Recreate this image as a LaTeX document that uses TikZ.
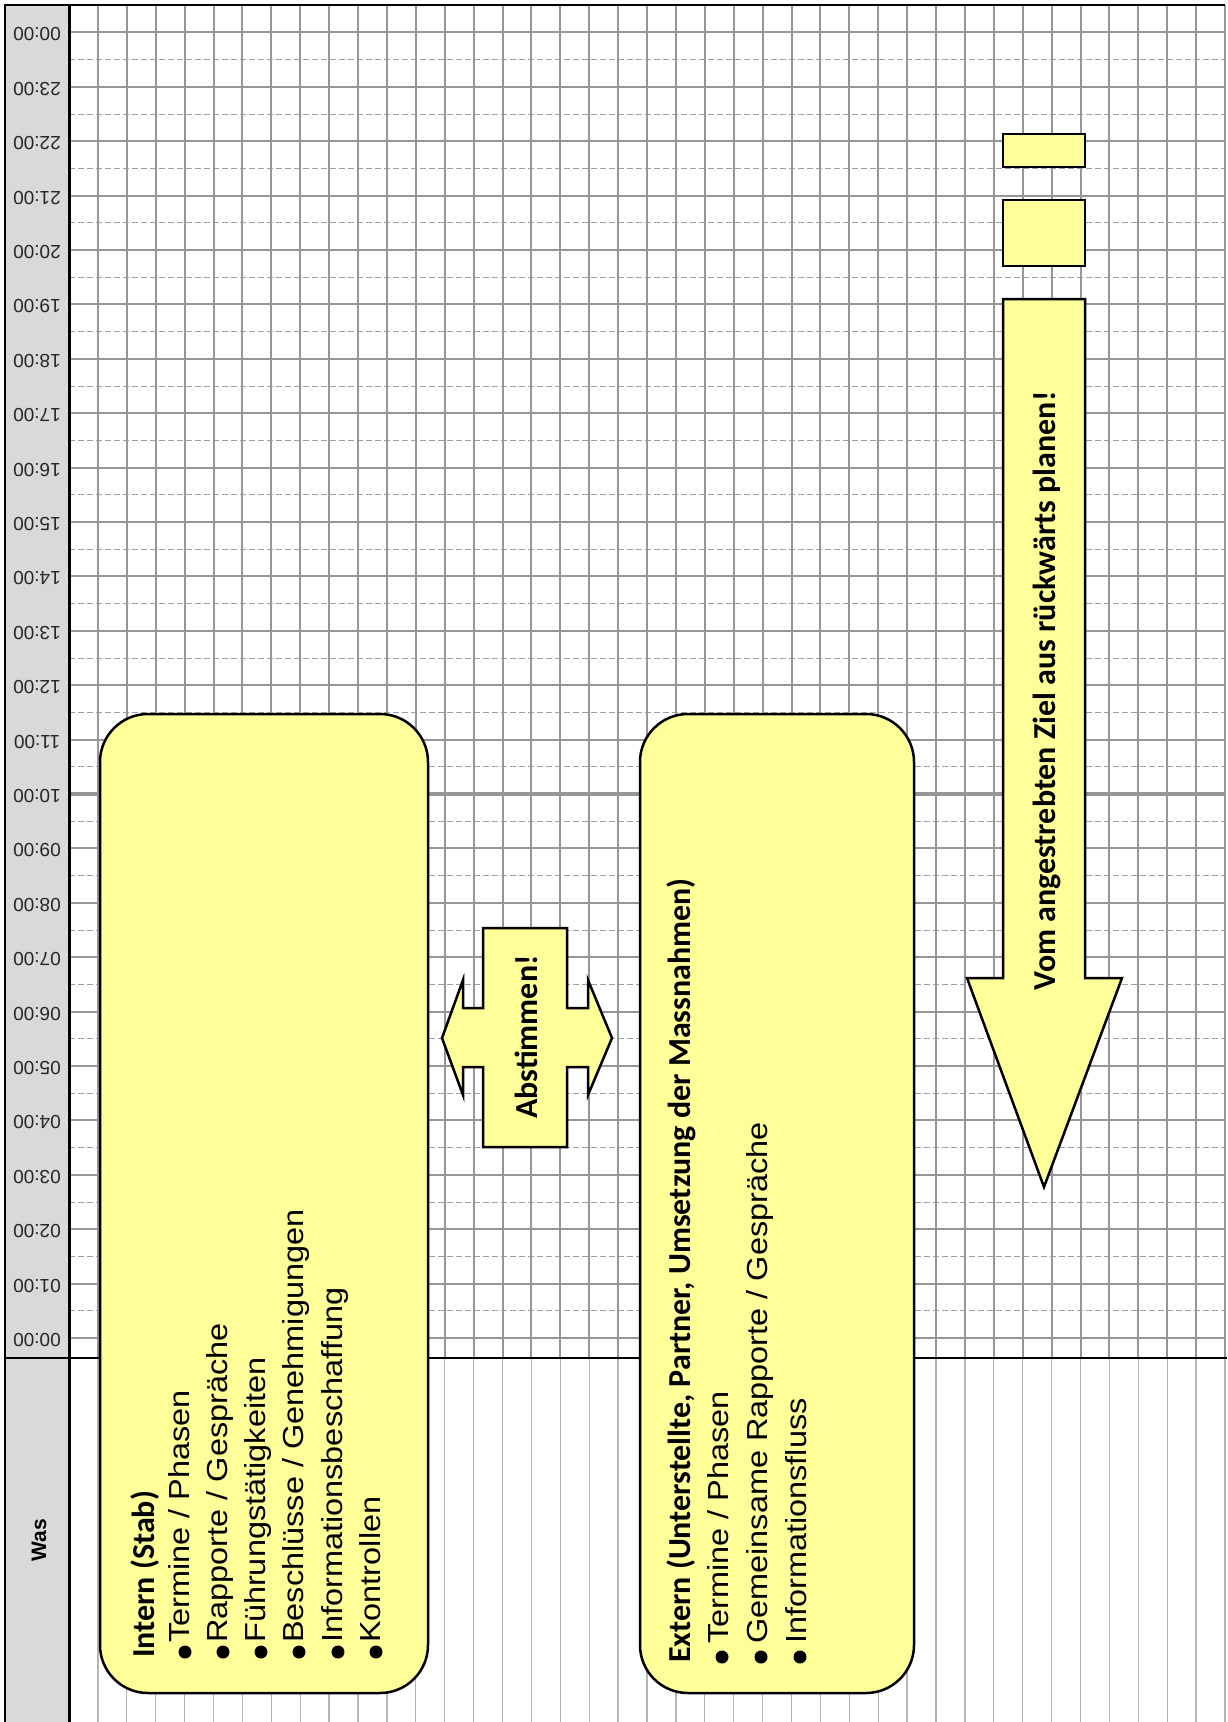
\documentclass[tikz,border=0pt]{standalone}
\usepackage{fontspec}
\setmainfont{Liberation Sans}
\newfontfamily\calib{Carlito}
\definecolor{shapeyellow}{HTML}{FFFF99}
\definecolor{gridgray}{HTML}{969696}
\definecolor{dashgray}{HTML}{A0A0A0}
\definecolor{headgray}{HTML}{D9D9D9}
\newcommand\bodyfnt{\fontsize{29}{36}\selectfont}
\newcommand\headfnt{\calib\bfseries\fontsize{32}{38}\selectfont}
\newcommand\wide[1]{\scalebox{1.12}[1]{#1}}
\tikzset{
  hourline/.style={draw=gridgray, line width=2pt},
  dashline/.style={draw=dashgray, line width=1pt, dash pattern=on 6pt off 3pt},
  vline/.style={draw=gridgray, line width=2pt},
  vlinelow/.style={draw=gridgray!70, line width=1.3pt},
  roundbox/.style={draw=black, line width=2.5pt, fill=shapeyellow, rounded corners=48pt, inner sep=0pt},
  rectbox/.style={draw=black, line width=2.5pt, fill=shapeyellow, inner sep=0pt},
  shapestyle/.style={draw=black, line width=2.5pt, fill=shapeyellow, line join=miter},
  txtline/.style={rotate=90, anchor=base west, inner sep=0pt, font=\bodyfnt},
  headline/.style={rotate=90, anchor=base west, inner sep=0pt, font=\headfnt},
  bulletdot/.style={circle, fill=black, inner sep=0pt, minimum size=13pt},
  timelbl/.style={rotate=180, inner sep=0pt, font=\fontsize{19}{19}\selectfont, text=black!85},
  waslbl/.style={rotate=90, inner sep=0pt, font=\bfseries\fontsize{21}{21}\selectfont},
}
\begin{document}
\begin{tikzpicture}[x=1pt,y=-1pt]
\useasboundingbox (0,0) rectangle (1227,1722);
\fill[white] (0,0) rectangle (1227,1722);
% header column
\fill[headgray] (5,5) rectangle (69,1722);
% grid
\foreach \h in {0,...,23}
  \draw[dashline] (69,{1338-54.4*\h-27.2}) -- (1225,{1338-54.4*\h-27.2});
\foreach \h in {0,...,24}
  \draw[hourline] (69,{1338-54.4*\h}) -- (1225,{1338-54.4*\h});
\foreach \k in {1,...,40} {
  \draw[vline] ({69+28.9*\k},5) -- ({69+28.9*\k},1358);
  \draw[vlinelow] ({69+28.9*\k},1358) -- ({69+28.9*\k},1722);
}
\draw[draw=gridgray, line width=4pt] (69,794) -- (1225,794);
% borders
\draw[black, line width=2pt] (5,1722) -- (5,5) -- (1225,5);
\draw[black, line width=3pt] (69,5) -- (69,1722);
\draw[black, line width=2.5pt] (5,1358) -- (1227,1358);
% time labels
\foreach \h/\t in {0/00,1/01,2/02,3/03,4/04,5/05,6/06,7/07,8/08,9/09,10/10,11/11,12/12,13/13,14/14,15/15,16/16,17/17,18/18,19/19,20/20,21/21,22/22,23/23,24/00}
  \node[timelbl] (t\h) at (37,{1338-54.4*\h+2}) {\t:00};
\node[waslbl] (was) at (39,1540) {Was};
% Intern box
\node[roundbox, minimum width=328pt, minimum height=979pt] (intern) at (264,1203.5) {};
\node[headline] (i0) at (154,1658) {Intern (Stab)};
\node[bulletdot] (ib1) at (185,1652) {};
\node[txtline] (i1) at (189,1643) {\wide{Termine / Phasen}};
\node[bulletdot] (ib2) at (223,1652) {};
\node[txtline] (i2) at (227,1643) {\wide{Rapporte / Gespräche}};
\node[bulletdot] (ib3) at (261,1652) {};
\node[txtline] (i3) at (265,1643) {\wide{Führungstätigkeiten}};
\node[bulletdot] (ib4) at (299,1652) {};
\node[txtline] (i4) at (303,1643) {\wide{Beschlüsse / Genehmigungen}};
\node[bulletdot] (ib5) at (338,1652) {};
\node[txtline] (i5) at (342,1643) {\wide{Informationsbeschaffung}};
\node[bulletdot] (ib6) at (376,1652) {};
\node[txtline] (i6) at (380,1643) {\wide{Kontrollen}};
% Extern box
\node[roundbox, minimum width=274pt, minimum height=979pt] (extern) at (777,1203.5) {};
\node[headline] (e0) at (690,1663) {Extern (Unterstellte, Partner, Umsetzung der Massnahmen)};
\node[bulletdot] (eb1) at (722,1657) {};
\node[txtline] (e1) at (728,1644) {\wide{Termine / Phasen}};
\node[bulletdot] (eb2) at (761,1657) {};
\node[txtline] (e2) at (767,1644) {\wide{Gemeinsame Rapporte / Gespräche}};
\node[bulletdot] (eb3) at (800,1657) {};
\node[txtline] (e3) at (806,1644) {\wide{Informationsfluss}};
% Abstimmen cross
\draw[shapestyle] (483,928) -- (567,928) -- (567,1008) -- (588,1008) -- (588,980) -- (612,1038) -- (588,1095) -- (588,1067) -- (567,1067) -- (567,1147) -- (483,1147) -- (483,1067) -- (463,1067) -- (463,1095) -- (442,1038) -- (463,980) -- (463,1008) -- (483,1008) -- cycle;
\node[rotate=90, anchor=base, inner sep=0pt, font=\headfnt] (abst) at (537,1037) {Abstimmen!};
% right arrow and rectangles
\node[rectbox, minimum width=82pt, minimum height=33pt] (r1) at (1044,150.5) {};
\node[rectbox, minimum width=82pt, minimum height=66pt] (r2) at (1044,233) {};
\draw[shapestyle] (1003,299) -- (1085,299) -- (1085,978) -- (1122,978) -- (1044,1187) -- (967,978) -- (1003,978) -- cycle;
\node[rotate=90, anchor=base, inner sep=0pt, font=\headfnt] (vom) at (1055,691) {Vom angestrebten Ziel aus rückwärts planen!};
\end{tikzpicture}
\end{document}
